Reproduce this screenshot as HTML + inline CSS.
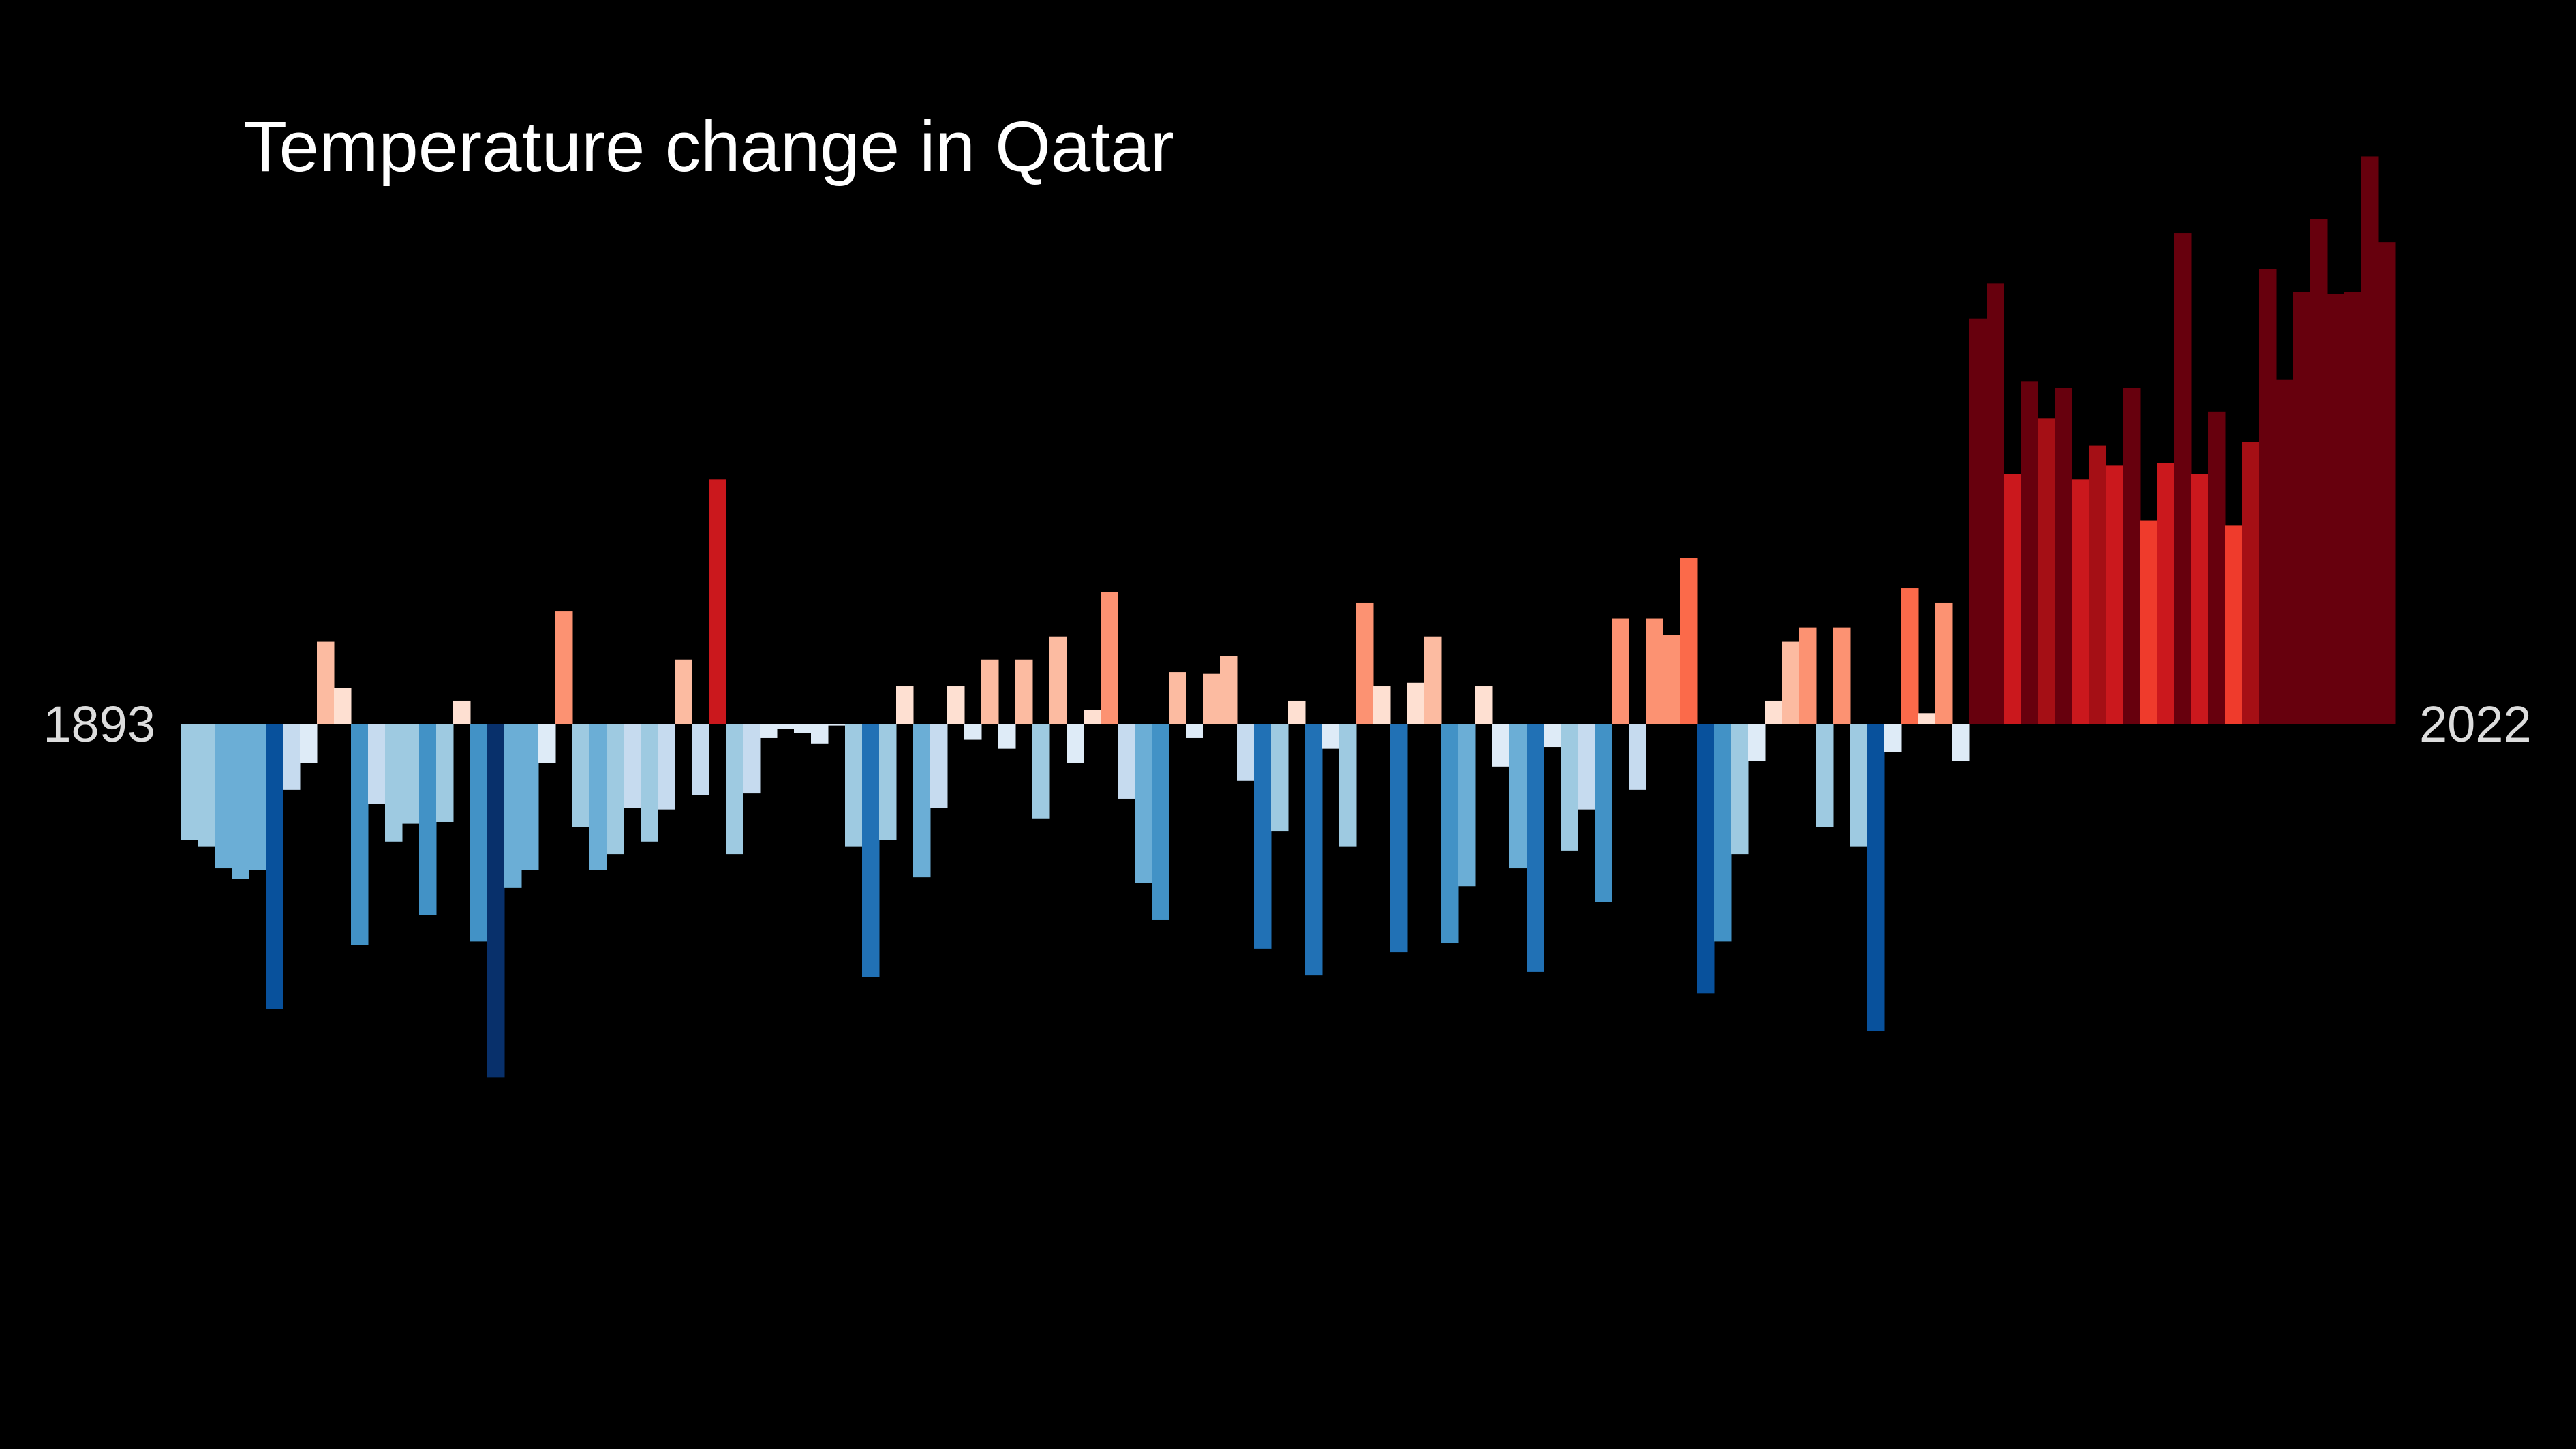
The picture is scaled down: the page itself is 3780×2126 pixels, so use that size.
<!DOCTYPE html>
<html><head><meta charset="utf-8">
<style>
html,body{margin:0;padding:0;background:#000;}
svg{display:block;}
text{font-family:"Liberation Sans",Arial,sans-serif;}
</style></head>
<body>
<svg id="chart" width="3780" height="2126" viewBox="0 0 3780 2126" xmlns="http://www.w3.org/2000/svg">
<rect x="0" y="0" width="3780" height="2126" fill="#000"/>
<text x="357" y="251" font-size="105" fill="#ffffff">Temperature change in Qatar</text>
<g id="bars"></g>
<text x="228" y="1088" font-size="74" fill="#dddddd" text-anchor="end">1893</text>
<text x="3550" y="1088" font-size="74" fill="#dddddd" text-anchor="start">2022</text>
</svg>
<script>
const startYear = 1893;
const endYear = 2022;
const anomalies = [
-0.65,-0.69,-0.81,-0.87,-0.82,-1.60,-0.37,-0.22,0.46,0.20,
-1.24,-0.45,-0.66,-0.56,-1.07,-0.55,0.13,-1.22,-1.98,-0.92,
-0.82,-0.22,0.63,-0.58,-0.82,-0.73,-0.47,-0.66,-0.48,0.36,
-0.40,1.37,-0.73,-0.39,-0.08,-0.03,-0.05,-0.11,-0.01,-0.69,
-1.42,-0.65,0.21,-0.86,-0.47,0.21,-0.09,0.36,-0.14,0.36,
-0.53,0.49,-0.22,0.08,0.74,-0.42,-0.89,-1.10,0.29,-0.08,
0.28,0.38,-0.32,-1.26,-0.60,0.13,-1.41,-0.14,-0.69,0.68,
0.21,-1.28,0.23,0.49,-1.23,-0.91,0.21,-0.24,-0.81,-1.39,
-0.13,-0.71,-0.48,-1.00,0.59,-0.37,0.59,0.50,0.93,-1.51,
-1.22,-0.73,-0.21,0.13,0.46,0.54,-0.58,0.54,-0.69,-1.72,
-0.16,0.76,0.06,0.68,-0.21,2.27,2.47,1.40,1.92,1.71,
1.88,1.37,1.56,1.45,1.88,1.14,1.46,2.75,1.40,1.75,
1.11,1.58,2.55,1.93,2.42,2.83,2.41,2.42,3.18,2.70
];
const blues = ["#deebf7","#c6dbef","#9ecae1","#6baed6","#4292c6","#2171b5","#08519c","#08306b"];
const reds = ["#fee0d2","#fcbba1","#fc9272","#fb6a4a","#ef3b2c","#cb181d","#a50f15","#67000d"];
const binSize = 0.25;

const plotLeft = 265, plotRight = 3515, baseline = 1062, pxPerUnit = 261.8;
const n = anomalies.length;
const bw = (plotRight - plotLeft) / n;
function xScale(i){ return plotLeft + i * bw; }
function yScale(v){ return baseline - v * pxPerUnit; }
function colorFor(v){
  const b = Math.min(7, Math.floor(Math.abs(v) / binSize));
  return v >= 0 ? reds[b] : blues[b];
}
const g = document.getElementById('bars');
const NS = "http://www.w3.org/2000/svg";
anomalies.forEach(function(v, i){
  const r = document.createElementNS(NS, 'rect');
  const y0 = yScale(Math.max(v, 0));
  const y1 = yScale(Math.min(v, 0));
  r.setAttribute('x', xScale(i));
  r.setAttribute('y', y0);
  r.setAttribute('width', bw + 0.5);
  r.setAttribute('height', Math.max(0, y1 - y0));
  r.setAttribute('fill', colorFor(v));
  
  
  g.appendChild(r);
});
</script>
</body></html>
